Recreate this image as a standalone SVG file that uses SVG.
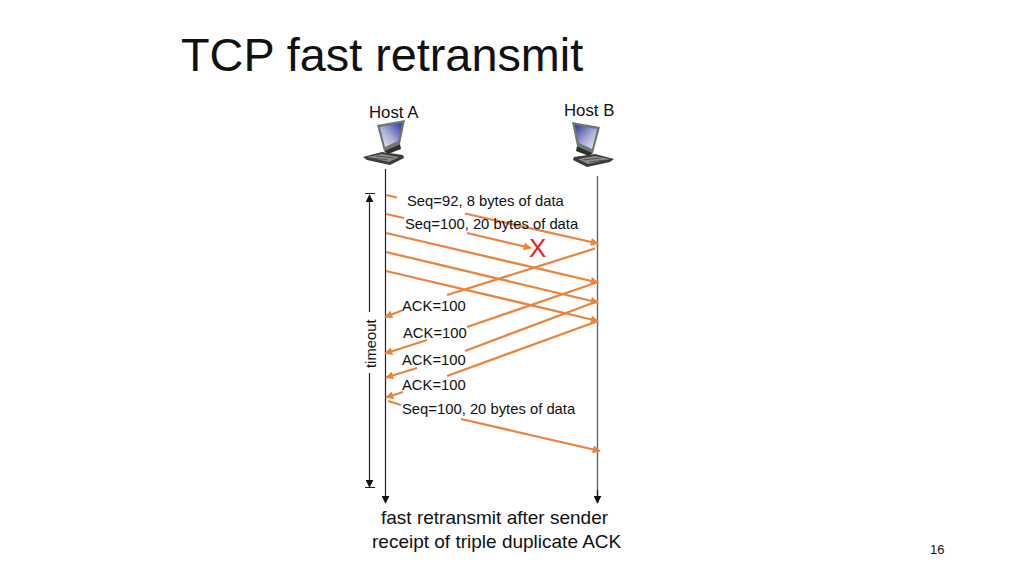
<svg xmlns="http://www.w3.org/2000/svg" width="1024" height="576" viewBox="0 0 1024 576">
<style>
text{font-family:"Liberation Sans",Arial,sans-serif;fill:#111}
.l{font-size:14.800px}
.h{font-size:16.800px}
.b{font-size:19px}
.o{stroke:#e8853f;stroke-width:2.300;fill:none}
.k{stroke:#222;stroke-width:1.200;fill:none}
.g{stroke:#666;stroke-width:1.400;fill:none}
</style>
<defs>
<marker id="oa" viewBox="0 0 10 10" refX="9" refY="5" markerWidth="9" markerHeight="8" markerUnits="userSpaceOnUse" orient="auto"><path d="M0 0L10 5L0 10z" fill="#e8853f"/></marker>
<marker id="ka" viewBox="0 0 10 10" refX="9" refY="5" markerWidth="8" markerHeight="8" markerUnits="userSpaceOnUse" orient="auto"><path d="M0 0L10 5L0 10z" fill="#111"/></marker>
<linearGradient id="scr" x1="1" y1="0" x2="0" y2="1"><stop offset="0" stop-color="#2f35a0"/><stop offset="0.55" stop-color="#a9aed8"/><stop offset="1" stop-color="#eeeef6"/></linearGradient>
<g id="pc">
<path d="M15 5L43 0L38 24L22 31z" fill="#6f7674"/>
<path d="M18 7L40 3L36 21L23 27z" fill="url(#scr)"/>
<path d="M22 31L38 24L39 29L26 34z" fill="#2e2e2e"/>
<path d="M1 37L20 32L41 35L42 38L28 45L5 40z" fill="#3c3c3c"/>
<path d="M5 37L20 34L37 37L27 42z" fill="#8d8d8d"/>
<path d="M9 38L26 40M14 36L32 38" stroke="#444" stroke-width="0.800" fill="none"/>
</g>
</defs>
<text id="title" x="181" y="71" style="font-size:46.800px">TCP fast retransmit</text>
<g id="host-a"><use href="#pc" x="362" y="120"/><text class="h" x="369" y="118">Host A</text></g>
<g id="host-b"><use href="#pc" transform="translate(615 122) scale(-1 1)"/><text class="h" x="564" y="116">Host B</text></g>
<g id="connectors">
<path class="k" d="M385.500 169V503" marker-end="url(#ka)"/>
<path class="g" d="M597.500 176V503"/>
<path class="k" d="M597.500 490V503" marker-end="url(#ka)"/>
<path class="k" d="M369.500 312V195" marker-end="url(#ka)"/>
<path class="k" d="M369.500 373V487" marker-end="url(#ka)"/>
<path class="k" d="M365 193.500H375M365 487.500H375"/>
<path class="o" d="M386 195L397 197.500"/>
<path class="o" d="M465 213.500L598 243.500" marker-end="url(#oa)"/>
<path class="o" d="M386 214L404 218"/>
<path class="o" d="M467 233L531 248" marker-end="url(#oa)"/>
<path class="o" d="M386 233L598 282.500" marker-end="url(#oa)"/>
<path class="o" d="M386 252L598 302.500" marker-end="url(#oa)"/>
<path class="o" d="M386 271L598 321" marker-end="url(#oa)"/>
<path class="o" d="M595 248.500L447 295"/>
<path class="o" d="M402 310.500L385 317" marker-end="url(#oa)"/>
<path class="o" d="M598 282L467 327"/>
<path class="o" d="M427 340L385 353.500" marker-end="url(#oa)"/>
<path class="o" d="M598 301L465 351"/>
<path class="o" d="M417 368L386 377.500" marker-end="url(#oa)"/>
<path class="o" d="M598 321L447 376"/>
<path class="o" d="M403 392L386 397.500" marker-end="url(#oa)"/>
<path class="o" d="M388 401L401 405"/>
<path class="o" d="M461 419L600 451" marker-end="url(#oa)"/>
</g>
<g id="labels">
<text class="l" x="407" y="206">Seq=92, 8 bytes of data</text>
<text class="l" x="405" y="229">Seq=100, 20 bytes of data</text>
<text x="529" y="257" style="font-size:26px;fill:#e8202a">X</text>
<text class="l" x="402" y="311">ACK=100</text>
<text class="l" x="403" y="338">ACK=100</text>
<text class="l" x="402" y="365">ACK=100</text>
<text class="l" x="402" y="390">ACK=100</text>
<text class="l" x="402" y="414">Seq=100, 20 bytes of data</text>
<text class="l" transform="translate(375.500 368) rotate(-90)">timeout</text>
<text class="b" x="381" y="524">fast retransmit after sender</text>
<text class="b" x="372" y="548">receipt of triple duplicate ACK</text>
<text x="930" y="554" style="font-size:13px">16</text>
</g>
</svg>
